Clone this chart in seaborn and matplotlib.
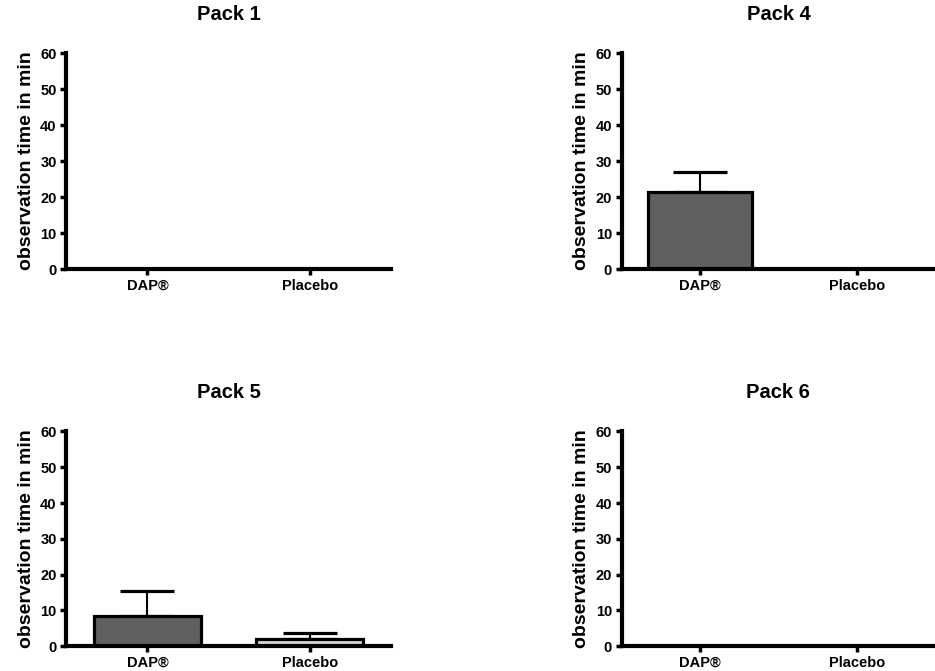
import numpy as np
import pandas as pd
import matplotlib
matplotlib.use("Agg")
import matplotlib.pyplot as plt
import seaborn as sns

sns.set_style("ticks")
plt.rcParams["font.family"] = ["Liberation Sans", "DejaVu Sans"]
plt.rcParams["font.weight"] = "bold"
for key in ["text.color", "axes.labelcolor", "xtick.color", "ytick.color", "axes.edgecolor"]:
    plt.rcParams[key] = "black"

GROUPS = ["DAP®", "Placebo"]
PACKS = ["Pack 1", "Pack 4", "Pack 5", "Pack 6"]
MEANS = {
    "Pack 1": [0.0, 0.0],
    "Pack 4": [21.5, 0.0],
    "Pack 5": [8.5, 2.0],
    "Pack 6": [0.0, 0.0],
}
ERRS = {
    "Pack 1": [0.0, 0.0],
    "Pack 4": [5.5, 0.0],
    "Pack 5": [7.0, 1.7],
    "Pack 6": [0.0, 0.0],
}
BAR_COLORS = ["#606060", "#d4d4d4"]

fig = plt.figure(figsize=(9.35, 6.71), dpi=100)
positions = [
    [0.071, 0.599, 0.347, 0.322],
    [0.665, 0.599, 0.335, 0.322],
    [0.071, 0.037, 0.347, 0.320],
    [0.665, 0.037, 0.335, 0.320],
]

for pack, pos in zip(PACKS, positions):
    ax = fig.add_axes(pos)
    d = pd.DataFrame({"group": GROUPS, "value": MEANS[pack]})
    sns.barplot(data=d, x="group", y="value", hue="group", palette=BAR_COLORS,
                width=0.66, edgecolor="black", linewidth=2.3, legend=False,
                errorbar=None, ax=ax, zorder=2)
    for i, (m, e) in enumerate(zip(MEANS[pack], ERRS[pack])):
        if e > 0:
            ax.errorbar([i], [m], yerr=[[0], [e]], fmt="none", ecolor="black",
                        elinewidth=1.5, capsize=19.5, capthick=2.3, zorder=1)
    ax.set_xlim(-0.5, 1.5)
    ax.set_ylim(0, 60)
    ax.set_yticks(range(0, 61, 10))
    ax.set_title(pack, fontsize=14.5, fontweight="bold", pad=24)
    ax.set_ylabel("observation time in min", fontsize=14, fontweight="bold", labelpad=4)
    ax.set_xlabel("")
    ax.tick_params(axis="both", width=2.5, length=4, labelsize=10.5, pad=3)
    for lab in ax.get_xticklabels() + ax.get_yticklabels():
        lab.set_fontweight("bold")
    sns.despine(ax=ax)
    ax.spines["left"].set_linewidth(3)
    ax.spines["bottom"].set_linewidth(3)
    ax.patch.set_alpha(0)

fig.savefig("out.png", dpi=100, facecolor="white")
